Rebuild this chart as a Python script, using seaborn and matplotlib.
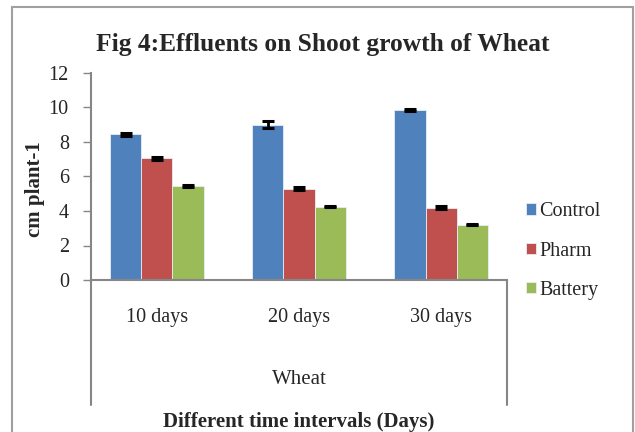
import pandas as pd
import matplotlib
matplotlib.use("Agg")
import matplotlib.pyplot as plt
import seaborn as sns
from matplotlib.lines import Line2D
from matplotlib.patches import Rectangle

# Data
days = ["10 days", "20 days", "30 days"]
treatments = ["Control", "Pharm", "Battery"]
control = [8.45, 9.0, 9.85]
pharm = [7.05, 5.3, 4.2]
battery = [5.45, 4.25, 3.2]
control_err = [0.10, 0.20, 0.08]
pharm_err = [0.08, 0.08, 0.07]
battery_err = [0.03, 0.03, 0.04]
y_ticks = [0, 2, 4, 6, 8, 10, 12]

colors = ["#4F81BD", "#C0504D", "#9BBB59"]
axis_gray = "#868686"

df = pd.DataFrame({
    "day": days * 3,
    "treatment": [t for t in treatments for _ in days],
    "value": control + pharm + battery,
})
errors = [control_err, pharm_err, battery_err]

sns.set_style("white")
plt.rcParams["font.family"] = ["Liberation Serif", "DejaVu Serif"]

fig = plt.figure(figsize=(6.35, 4.32), dpi=100)
ax = fig.add_axes([91 / 635, 1 - 280 / 432, (507 - 91) / 635, (280 - 73) / 432])

sns.barplot(data=df, x="day", y="value", hue="treatment", hue_order=treatments,
            palette=colors, saturation=1, width=0.66, errorbar=None,
            edgecolor="#e6eef5", linewidth=0.6, ax=ax)

# Error bars on top of each bar
for container, errs in zip(ax.containers, errors):
    for bar, e in zip(container, errs):
        ax.errorbar(bar.get_x() + bar.get_width() / 2, bar.get_height(), yerr=e,
                    color="black", capsize=4, capthick=2.2, elinewidth=2, zorder=5)

ax.set_ylim(0, 12)
ax.set_yticks(y_ticks)
ax.tick_params(axis="y", labelsize=14.5, length=6, width=1, color=axis_gray, pad=10,
               direction="out", left=True)
ax.tick_params(axis="x", labelsize=14.5, length=0, pad=20)

for side in ["top", "right"]:
    ax.spines[side].set_visible(False)
for side in ["left", "bottom"]:
    ax.spines[side].set_color(axis_gray)
    ax.spines[side].set_linewidth(1.5)

# Category box below the axis
for xa in [0, 1]:
    ax.add_line(Line2D([xa, xa], [0, -125 / 207], transform=ax.transAxes,
                       color=axis_gray, lw=1.5, clip_on=False))
ax.text(0.5, -100 / 207, "Wheat", transform=ax.transAxes, ha="center", va="center", fontsize=15)

ax.set_xlabel("Different time intervals (Days)", fontsize=15, fontweight="bold")
ax.xaxis.set_label_coords(0.5, -132 / 207)
ax.xaxis.label.set_va("top")
ax.set_ylabel("cm plant-1", fontsize=15, fontweight="bold")
ax.yaxis.set_label_coords(-46 / 416, 0.437)

fig.text(323 / 635, 1 - 44 / 432, "Fig 4:Effluents on Shoot growth of Wheat",
         ha="center", va="center", fontsize=18.4, fontweight="bold")

ax.legend(loc="center left", bbox_to_anchor=(1.026, 0.14), frameon=False, fontsize=14.5,
          handlelength=0.5, handleheight=0.5, handletextpad=0.15, labelspacing=1.0,
          borderaxespad=0)

# Outer chart border
fig.add_artist(Rectangle((12 / 635, -0.1), 621 / 635, 1.1 - 7 / 432, transform=fig.transFigure,
                         fill=False, edgecolor="#a0a0a0", lw=1.5, clip_on=False))

fig.savefig("out.png", dpi=100)
